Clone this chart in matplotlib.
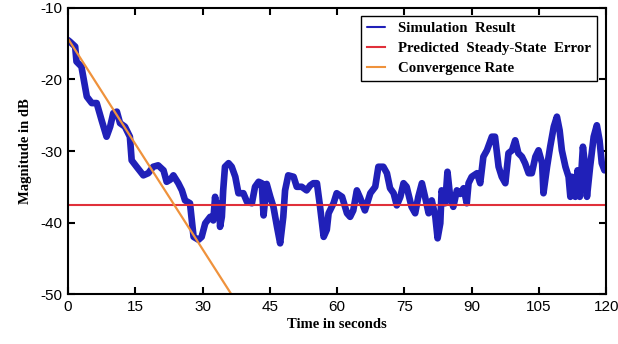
import numpy as np
import matplotlib.pyplot as plt

plt.rcParams['axes.unicode_minus'] = False

# simulation trace (time in s, magnitude in dB)
sim_t = [0.0, 0.4, 1.6, 1.9, 3.0, 4.2, 5.3, 6.4, 7.5, 8.6, 9.4, 10.1, 10.9, 11.6, 12.7,
         13.8, 14.2, 15.3, 16.8, 17.9, 19.0, 20.1, 21.3, 22.0, 22.8, 23.5, 24.6, 25.4,
         26.1, 27.2, 27.6, 28.0, 29.1, 29.8, 30.6, 31.7, 32.4, 32.8, 33.2, 33.8, 33.9,
         34.3, 34.6, 35.0, 35.8, 36.5, 37.3, 38.0, 39.1, 39.9, 41.0, 41.7, 42.5, 43.2,
         43.6, 44.3, 45.1, 45.8, 46.6, 47.3, 48.0, 48.4, 49.1, 50.3, 51.0, 52.1, 53.2,
         54.0, 54.7, 55.5, 56.2, 57.0, 57.7, 58.1, 59.2, 59.9, 61.1, 62.2, 62.9, 63.6,
         64.4, 65.1, 65.9, 66.2, 67.4, 68.5, 69.2, 70.3, 71.1, 71.8, 72.6, 73.3, 74.1,
         74.8, 75.5, 76.6, 77.4, 78.1, 78.9, 79.6, 80.4, 81.1, 81.9, 82.4, 83.0, 83.3,
         84.1, 84.6, 85.2, 85.9, 86.7, 87.4, 88.2, 88.9, 89.3, 90.0, 91.2, 91.9, 92.6,
         93.4, 94.5, 95.2, 96.0, 96.7, 97.5, 98.2, 99.0, 99.7, 100.4, 101.2, 101.9,
         102.7, 103.4, 104.2, 104.9, 105.7, 106.0, 106.8, 107.5, 108.3, 109.0, 109.6,
         110.1, 110.9, 111.6, 112.0, 112.3, 113.1, 113.6, 114.1, 114.8, 115.3, 115.7,
         116.4, 117.2, 117.9, 118.5, 119.0, 119.6]
sim_db = [-14.5, -14.7, -15.4, -17.5, -18.2, -22.4, -23.3, -23.3, -25.7, -28.0, -26.6,
          -24.7, -24.5, -26.1, -26.6, -28.0, -31.3, -32.2, -33.4, -33.1, -32.2, -32.0,
          -32.7, -34.3, -34.0, -33.4, -34.5, -35.5, -36.9, -37.3, -39.7, -42.0, -42.4,
          -42.0, -40.1, -39.2, -39.7, -36.4, -39.2, -37.3, -40.6, -39.2, -35.5, -32.2,
          -31.7, -32.2, -33.6, -35.9, -35.9, -37.1, -37.3, -35.0, -34.3, -34.5, -39.0,
          -34.6, -36.4, -37.8, -40.6, -42.9, -39.2, -35.5, -33.4, -33.6, -35.0, -35.0,
          -35.5, -34.8, -34.5, -34.5, -37.8, -42.0, -41.0, -38.7, -37.3, -35.9, -36.4,
          -38.7, -39.2, -38.3, -35.5, -36.5, -37.8, -38.3, -35.9, -35.0, -32.2, -32.2,
          -33.1, -35.2, -35.9, -37.6, -36.4, -34.5, -35.0, -37.8, -38.7, -36.4, -34.5,
          -36.4, -38.7, -36.9, -39.2, -42.2, -40.1, -35.5, -37.3, -32.9, -36.4, -37.8,
          -35.5, -36.0, -35.2, -37.3, -34.5, -33.6, -33.1, -34.5, -30.8, -29.9, -28.0,
          -28.0, -32.2, -33.6, -34.5, -30.3, -29.9, -28.5, -30.3, -30.8, -31.7, -33.1,
          -33.1, -30.8, -29.9, -31.7, -35.9, -32.2, -29.4, -26.6, -25.2, -27.1, -29.9,
          -32.2, -33.6, -36.4, -33.6, -36.4, -32.7, -36.4, -29.4, -32.2, -36.4, -32.2,
          -28.0, -26.4, -28.5, -31.7, -32.7]

steady_state_db = -37.5
conv_t = [0.0, 36.4]
conv_db = [-14.3, -50.0]

x_ticks = [0, 15, 30, 45, 60, 75, 90, 105, 120]
y_ticks = [-50, -40, -30, -20, -10]

fig = plt.figure(figsize=(6.18, 3.44), dpi=100)
ax = fig.add_axes([0.110, 0.145, 0.871, 0.832])

ax.plot(sim_t, sim_db, color='#2020b8', lw=4.8, solid_joinstyle='round',
        solid_capstyle='round', label='Simulation  Result')
ax.axhline(steady_state_db, color='#e0303a', lw=1.5, label='Predicted  Steady-State  Error')
ax.plot(conv_t, conv_db, color='#ef923c', lw=1.6, label='Convergence Rate')

ax.set_xlim(0, 120)
ax.set_ylim(-50, -10)
ax.set_xticks(x_ticks)
ax.set_yticks(y_ticks)
ax.tick_params(direction='in', length=5, width=1.5, top=True, right=True,
               labelsize=11, pad=4)
for lab in ax.get_xticklabels() + ax.get_yticklabels():
    lab.set_family('Liberation Sans')
for sp in ax.spines.values():
    sp.set_linewidth(1.5)

ax.set_xlabel('Time in seconds', family='Liberation Serif', fontweight='bold',
              fontsize=10.5, labelpad=3)
ax.set_ylabel('Magnitude in dB', family='Liberation Serif', fontweight='bold',
              fontsize=10.5, labelpad=6)

leg = ax.legend(loc='upper right', bbox_to_anchor=(0.983, 0.972), borderaxespad=0,
                fancybox=False, edgecolor='black', framealpha=1, handlelength=1.2,
                handletextpad=0.9, borderpad=0.4, labelspacing=0.45,
                prop={'family': 'Liberation Serif', 'weight': 'bold', 'size': 10.7})
leg.get_frame().set_linewidth(1.0)
for h in leg.get_lines():
    h.set_linewidth(1.5)

fig.savefig('out.png', dpi=100)
